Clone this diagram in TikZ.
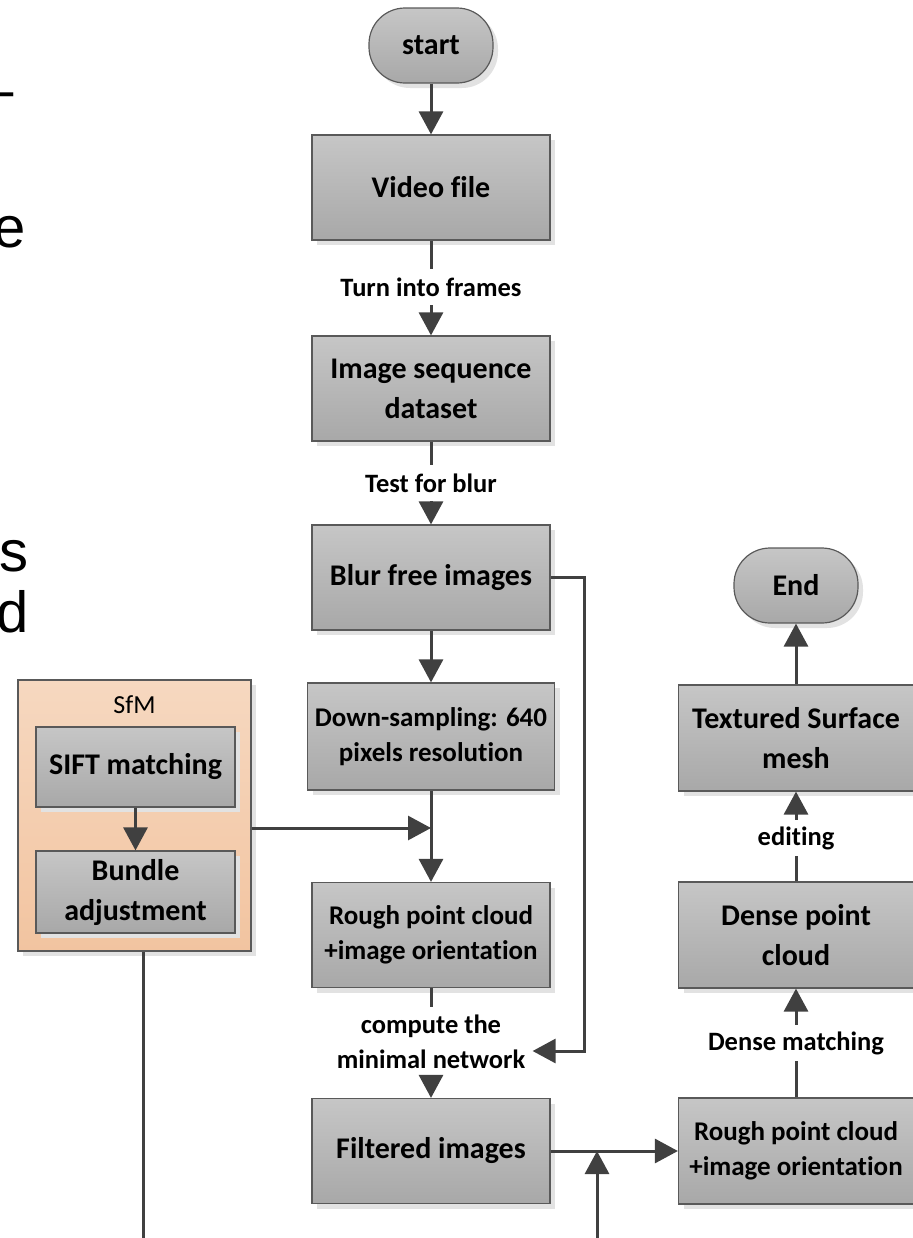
\documentclass[tikz,border=0pt]{standalone}
\usepackage{fontspec}
\setmainfont[Ligatures={NoCommon,NoContextual}]{Carlito}
\newfontfamily\arialf{Liberation Sans}
\usetikzlibrary{arrows.meta,shadows,calc}
\definecolor{boxtop}{RGB}{198,198,198}
\definecolor{boxbot}{RGB}{168,168,168}
\definecolor{edgec}{RGB}{89,89,89}
\definecolor{linec}{RGB}{64,64,64}
\definecolor{sfmtop}{RGB}{246,216,192}
\definecolor{sfmbot}{RGB}{242,196,160}
\definecolor{shad}{RGB}{226,226,226}
\begin{document}
\begin{tikzpicture}[x=0.5pt,y=-0.5pt,
  every node/.style={inner sep=0pt},
  box/.style={draw=edgec, line width=0.6pt, top color=boxtop, bottom color=boxbot, align=center,
    font=\bfseries\fontsize{15}{20}\selectfont,
    drop shadow={shadow xshift=2.5pt, shadow yshift=-2.5pt, fill=shad, opacity=1}},
  mainbox/.style={box, minimum width=119pt, minimum height=52.5pt},
  rightbox/.style={box, minimum width=117.5pt, minimum height=53pt},
  smalltext/.style={font=\bfseries\fontsize{13.5}{17.5}\selectfont},
  term/.style={box, rounded corners=18pt, minimum width=62pt, minimum height=37.5pt},
  lbl/.style={align=center, font=\bfseries\fontsize{13.25}{17.5}\selectfont, minimum height=18pt},
  conn/.style={draw=linec, line width=1.5pt},
  arr/.style={conn, -{Triangle[length=11.5pt,width=12pt]}},
  frag/.style={font=\arialf\fontsize{29}{34}\selectfont, anchor=base east}
]
\path[use as bounding box] (0,0) rectangle (912,1238);

% fragments of text at the left edge
\node[frag] (f1) at (14,109) {–};
\node[frag] (f2) at (26,247) {e};
\node[frag] (f3) at (29,571) {s};
\node[frag] (f4) at (29,632) {d};

% main column
\node[term] (start) at (431,45.5) {start};
\node[mainbox] (video) at (431,187.5) {Video file};
\node[lbl] (l1) at (431,287) {Turn into frames};
\node[mainbox] (imgseq) at (431,388.5) {Image sequence\\dataset};
\node[lbl] (l2) at (431,483) {Test for blur};
\node[mainbox] (blur) at (431,577.5) {Blur free images};
\node[box, smalltext, minimum width=123.5pt, minimum height=53.5pt] (down) at (431,736.5) {Down-sampling: 640\\pixels resolution};
\node[mainbox, smalltext] (rough1) at (431,935) {Rough point cloud\\+image orientation};
\node[lbl, minimum height=35pt, inner xsep=3.5pt] (l3) at (431,1042) {compute the\\minimal network};
\node[mainbox] (filt) at (431,1151) {Filtered images};

% right column
\node[rightbox, smalltext] (rough2) at (796,1151) {Rough point cloud\\+image orientation};
\node[lbl] (l4) at (796,1043) {Dense matching};
\node[rightbox] (dense) at (796,935) {Dense point\\cloud};
\node[lbl] (l5) at (796,838) {editing};
\node[rightbox] (tex) at (796,738) {Textured Surface\\mesh};
\node[term] (end) at (796,585.5) {End};

% SfM group
\node[draw=edgec, line width=0.6pt, top color=sfmtop, bottom color=sfmbot,
  minimum width=116.5pt, minimum height=135.5pt,
  drop shadow={shadow xshift=2.5pt, shadow yshift=-2.5pt, fill=shad, opacity=1}] (sfm) at (134.5,815.5) {};
\node[font=\fontsize{13}{16}\selectfont] (sfmlbl) at (134.5,705) {SfM};
\node[box, minimum width=99.5pt, minimum height=40pt] (sift) at (135.5,767) {SIFT matching};
\node[box, minimum width=99.5pt, minimum height=41pt] (bundle) at (135.5,892) {Bundle\\adjustment};

% connectors
\draw[arr] (start) -- (video);
\draw[conn] (video) -- (l1);
\draw[arr] (l1) -- (imgseq);
\draw[conn] (imgseq) -- (l2);
\draw[arr] (l2) -- (blur);
\draw[arr] (blur) -- (down);
\draw[arr] (down) -- (rough1);
\coordinate (j1) at (431,828);
\draw[arr] (sfm.east |- j1) -- (j1);
\draw[conn] (rough1) -- (l3);
\draw[arr] (l3) -- (filt);
\coordinate (c1) at (584,1051);
\draw[arr] (blur.east) -| (c1) -- (c1 -| l3.east);
\draw[arr] (filt) -- (rough2);
\coordinate (b2) at (597,1238);
\draw[arr] (b2) -- (b2 |- filt.east);
\draw[conn] (rough2) -- (l4);
\draw[arr] (l4) -- (dense);
\draw[conn] (dense) -- (l5);
\draw[arr] (l5) -- (tex);
\draw[arr] (tex) -- (end);
\draw[arr] (sift) -- (bundle);
\coordinate (b1) at (143,1238);
\draw[conn] (sfm.south -| b1) -- (b1);
\end{tikzpicture}
\end{document}
